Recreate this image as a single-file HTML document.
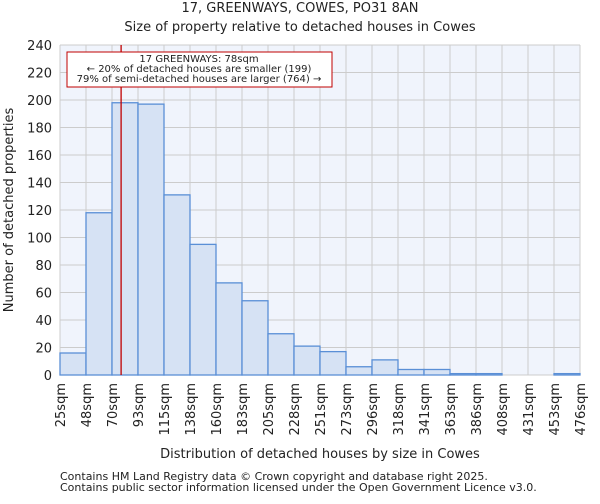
<!DOCTYPE html>
<html><head><meta charset="utf-8"><style>
body{margin:0;background:#fff;font-family:"DejaVu Sans","Liberation Sans",sans-serif}
svg text{font-family:"DejaVu Sans","Liberation Sans",sans-serif;fill:#222}
</style></head><body>
<svg id="c" width="600" height="500"></svg>
<script>
const categories=["25sqm","48sqm","70sqm","93sqm","115sqm","138sqm","160sqm","183sqm","205sqm","228sqm","251sqm","273sqm","296sqm","318sqm","341sqm","363sqm","386sqm","408sqm","431sqm","453sqm","476sqm"];
const counts=[16,118,198,197,131,95,67,54,30,21,17,6,11,4,4,1,1,0,0,1];
const yTicks=[0,20,40,60,80,100,120,140,160,180,200,220,240];
const markerValue=78;
const binStart=25, binWidth=22.55;
const L=60,R=580,T=45,B=375,yMax=240;
const NS="http://www.w3.org/2000/svg";
const svg=document.getElementById('c');
const bw=(R-L)/counts.length;
const x=i=>L+i*bw, y=v=>B-(v/yMax)*(B-T);
function mk(t,a,txt){const e=document.createElementNS(NS,t);for(const k in a)e.setAttribute(k,a[k]);if(txt!=null)e.textContent=txt;svg.appendChild(e);return e;}
let e=mk('rect',{x:L,y:T,width:R-L,height:B-T,fill:'#f0f4fc'});

yTicks.forEach(v=>{e=mk('line',{x1:L,x2:R,y1:y(v),y2:y(v),stroke:'#cccccc'});
e=mk('text',{x:L-8,y:y(v)+5,'text-anchor':'end','font-size':13},v);});
categories.forEach((c,i)=>{e=mk('line',{x1:x(i),x2:x(i),y1:T,y2:B,stroke:'#cccccc'});
e=mk('text',{transform:`translate(${x(i)+5},${B+8}) rotate(-90)`,'text-anchor':'end','font-size':13},c);});
counts.forEach((v,i)=>{if(v<=0)return;e=mk('rect',{x:x(i),y:y(v),width:bw,height:B-y(v),fill:'#d6e2f4',stroke:'#5a8fd6','stroke-width':1.3});});
const mx=L+((markerValue-binStart)/binWidth)*bw;
e=mk('line',{x1:mx,x2:mx,y1:T,y2:B,stroke:'#c00000','stroke-width':1.3});
e=mk('rect',{x:67,y:52,width:265,height:35,fill:'#fff',stroke:'#c00000'});
[["17 GREENWAYS: 78sqm",62],["← 20% of detached houses are smaller (199)",72],["79% of semi-detached houses are larger (764) →",82]].forEach(([t,yy])=>{e=mk('text',{x:199,y:yy,'text-anchor':'middle','font-size':10},t);});
e=mk('text',{x:300,y:12,'text-anchor':'middle','font-size':13},'17, GREENWAYS, COWES, PO31 8AN');
e=mk('text',{x:300,y:31,'text-anchor':'middle','font-size':13},'Size of property relative to detached houses in Cowes');
e=mk('text',{x:320,y:458,'text-anchor':'middle','font-size':13},'Distribution of detached houses by size in Cowes');
e=mk('text',{transform:'translate(13,210) rotate(-90)','text-anchor':'middle','font-size':13},'Number of detached properties');
e=mk('text',{x:60,y:480,'font-size':11,fill:'#444'},'Contains HM Land Registry data © Crown copyright and database right 2025.');
e=mk('text',{x:60,y:491,'font-size':11,fill:'#444'},'Contains public sector information licensed under the Open Government Licence v3.0.');
</script>
</body></html>
